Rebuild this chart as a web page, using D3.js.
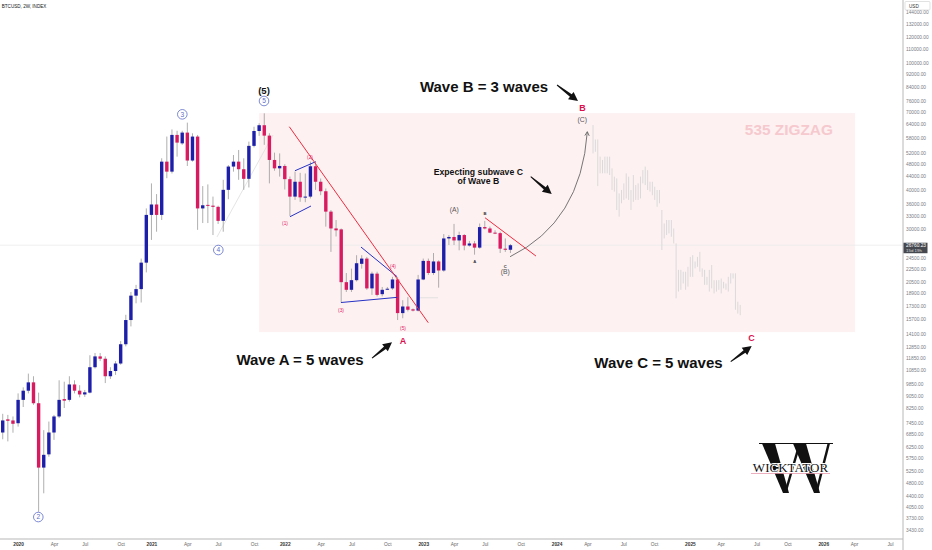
<!DOCTYPE html>
<html><head><meta charset="utf-8">
<script src="https://cdn.jsdelivr.net/npm/d3@7"></script>
<style>body{margin:0;background:#fff;} svg{display:block;font-family:"Liberation Sans",Arial,sans-serif;}</style>
</head><body><svg id="c" width="932" height="550"></svg>
<script>
// ---------- DATA ----------
const startDate = Date.UTC(2019, 10, 23);   // first 2W candle
const periodDays = 14;
const opens  = [6930,7620,7560,7410,8770,9370,9950,8560,5380,5920,6930,7780,8820,8770,9800,9370,9120,9240,11100,12000,11800,10400,10800,11400,13100,15600,18600,19500,23600,33300,35900,33300,48900,45500,59300,55800,60300,49300,58600,34900,35800,35600,35300,31900,39900,47200,48900,46300,43200,54800,61000,63600,59000,49500,46600,47400,43100,38000,42300,37800,38000,47300,42300,39500,34100,30200,30000,20500,19400,20800,23400,24300,19600,21800,18800,19450,19600,20900,16400,17200,16850,16700,20900,23900,21900,23800,22300,28100,28400,27700,28800,26700,27100,26300,30500,30200,29300,29200,26100,25900];
const highs  = [7930,7870,7780,9190,9600,10600,10400,9240,7050,7500,7870,10100,10000,10400,10100,9750,9420,12100,12300,12300,12000,11100,11600,13400,16200,19100,20100,24300,34900,41800,38700,50100,58600,61700,61100,61100,64800,60000,59300,41000,41500,38000,35600,42900,47700,51300,53200,50100,56500,62900,64500,69300,60000,52200,51900,48000,43900,45500,45100,44900,48900,48900,43300,40300,34500,32100,30200,21900,22600,24900,24900,24600,22100,22100,19800,19800,21300,21300,18000,18400,16950,21600,24300,24300,25300,24000,29000,28800,31200,29500,29000,27600,27600,31300,31900,30600,29800,29500,28100,27000];
const lows   = [6600,6500,6920,7230,8330,9190,8460,3910,4470,5820,6570,7690,8270,8660,9190,8930,8960,9190,11000,11600,9900,10200,10500,11300,12900,14900,17600,17700,22000,27800,29500,32100,43400,44900,50700,55200,47400,48900,29900,31400,31400,28800,31200,29500,37300,45500,42900,39900,40600,54200,58900,55200,41800,45800,43900,40000,33000,37100,36600,36500,37500,39900,38400,30600,25500,28500,17700,19100,19100,20600,22600,19400,18700,18500,18500,19400,19400,15600,15800,16600,16600,16600,20800,21600,21600,19700,22100,26800,26800,25800,25800,26500,25000,26100,30000,29200,29000,25300,25500,25300];
const closes = [7560,7540,7380,8770,9370,9950,8560,5380,5900,6930,7780,8770,8720,9800,9370,9120,9260,11100,12000,11800,10400,10800,11400,13100,15600,18600,19500,23600,33300,35900,33300,48900,45500,59300,56100,60300,49300,58600,34900,35700,35600,35300,31900,39900,47200,48900,46300,43200,54800,61000,63600,59000,49500,46600,47400,43100,38000,42300,37800,38000,47300,42300,39500,34100,30200,29800,20500,19400,20800,23500,24300,19600,21800,18700,19400,19550,20900,16400,17200,16800,16700,20900,23900,21900,23800,22300,28100,28400,27700,28800,26700,27100,26300,30500,30200,29300,29200,26100,25900,26760.23];
const lastPrice = 26760.23;

// projected (ghost) bars pattern
const ghostFirstIdx = 115.1, ghostLastIdx = 143.8;
const ghostHighs = [63700,57400,57400,50700,49500,50700,50700,50700,46600,43900,43350,38900,39850,41800,44950,43900,39850,44400,41300,41800,43900,46000,47200,46000,42300,42300,40800,39850,39850,34500,31300,32100,32100,32100,30200,27100,22400,22400,22100,22100,22900,24600,24900,23800,24600,25500,22650,22400,21300,22400,23200,20800,20800,20800,21050,20550,20300,21300,21850,21850,21850,17800,17400];
const ghostLows  = [51900,52500,41000,44950,44950,44950,44950,44400,39850,39400,34500,32900,36200,37100,37500,37100,34500,36600,37100,37100,37500,41800,41300,39850,39400,38400,37100,35300,36200,25850,28100,28800,29150,28450,27100,18250,19150,19400,20300,19400,19850,21300,21300,22650,22900,22100,21300,20100,20100,19150,19600,18900,19150,19400,18900,19600,19400,19150,20300,21050,16800,16350,16150];

// axis ticks
const yTicks = [144000,132000,120000,110000,100000,92000,84000,76000,70000,64000,58000,52000,48000,44000,40000,36000,33000,30000,24500,22500,20500,18900,17300,15700,14100,12850,11850,10850,9850,9050,8250,7450,6850,6250,5750,5250,4800,4400,4050,3730,3430];
const xTickMonths = ["2020-01","2020-04","2020-07","2020-10","2021-01","2021-04","2021-07","2021-10","2022-01","2022-04","2022-07","2022-10","2023-01","2023-04","2023-07","2023-10","2024-01","2024-04","2024-07","2024-10","2025-01","2025-04","2025-07","2025-10","2026-01","2026-04","2026-07"];
const xTickLabels = ["2020","Apr","Jul","Oct","2021","Apr","Jul","Oct","2022","Apr","Jul","Oct","2023","Apr","Jul","Oct","2024","Apr","Jul","Oct","2025","Apr","Jul","Oct","2026","Apr","Jul"];

// annotation anchors (candle index, price)
const zone = {i0: 50, i1: 166.2, top: 69400, bottom: 14300};
const bigTexts = [
  {t:"Wave B = 3 waves", i:93.85, p:80800},
  {t:"Wave A = 5 waves", i:57.97, p:11270},
  {t:"Wave C = 5 waves", i:127.87, p:11030}
];
const redLetters = [{t:"B", i:113.05, p:70700},{t:"A", i:78.05, p:13170},{t:"C", i:146.0, p:13450}];
const circled = [{t:"2", i:6.94, p:3766},{t:"3", i:35.02, p:68800},{t:"4", i:42.04, p:25850},{t:"5", i:50.95, p:75740}];
const subLabels = [{t:"(1)", i:55.04, p:31400},{t:"(2)", i:59.92, p:50390},{t:"(3)", i:65.96, p:16770},{t:"(4)", i:76.1, p:23030},{t:"(5)", i:78.05, p:14720}];
const grayLabels = [{t:"(A)", i:88.04, p:34490, s:6.8},{t:"(B)", i:98.0, p:22140, s:6.8},{t:"(C)", i:113.0, p:66000, s:6.8}];
const tinyLabels = [{t:"B", i:94.04, p:33690},{t:"A", i:92.03, p:23880},{t:"C", i:98.0, p:22940}];
const blueLines = [
  [[56.99,45800],[61.03,48880]],[[56.02,32870],[60.11,35510]],
  [[69.86,26410],[76.88,21340]],[[65.96,17700],[76.88,18370]]
];
const redLines = [[[55.88,62920],[82.98,15300]],[[94.04,32630],[103.98,24750]]];
const faintLines = [[[41.78,28400],[52.7,59250]],[[80.98,18320],[84.88,18320]]];
const arrows = [
  [[108.08,85010],[112.17,75740]],
  [[102.95,43870],[107.05,38720]],
  [[72.01,11860],[75.91,13300]],
  [[141.95,11550],[146.04,12930]]
];
const curve = [[98.92,24630],[112.76,31630],[113.99,60680]];

// ---------- SCALES ----------
const svg = d3.select("#c");
const plotRight = 903, plotBottom = 539;
const dayMs = 864e5;
const x = d3.scaleTime().domain([new Date(Date.UTC(2020,0,1)), new Date(Date.UTC(2026,0,1))]).range([17, 17 + 2192*133.8/365.25]);
const y = d3.scaleLog().domain([3430, 132000]).range([530, 24]);
const dateOf = i => new Date(startDate + i*periodDays*dayMs);
const X = i => x(dateOf(i));
const P = a => [X(a[0]), y(a[1])];

// zone rectangle
svg.append("rect").attr("x", X(zone.i0)).attr("y", y(zone.top))
  .attr("width", X(zone.i1) - X(zone.i0)).attr("height", y(zone.bottom) - y(zone.top))
  .attr("fill", "#fdf1f2");

svg.append("text").attr("x", X(153.3)).attr("y", y(59250)).attr("text-anchor","middle")
  .attr("font-size", 15.4).attr("font-weight","bold").attr("fill","#f6c9ce").text("535 ZIGZAG");

// last price line
svg.append("line").attr("x1",0).attr("x2",plotRight).attr("y1",y(lastPrice)).attr("y2",y(lastPrice))
  .attr("stroke","#ececec").attr("stroke-width",0.8);

// faint lines
faintLines.forEach(l => svg.append("line").attr("x1",P(l[0])[0]).attr("y1",P(l[0])[1]).attr("x2",P(l[1])[0]).attr("y2",P(l[1])[1]).attr("stroke","#dddddd").attr("stroke-width",0.8));

// ghost bars
const gStep = (ghostLastIdx - ghostFirstIdx)/(ghostHighs.length - 1);
const ghost = svg.append("g");
ghostHighs.forEach((h, k) => {
  const xi = X(ghostFirstIdx + k*gStep);
  ghost.append("line").attr("x1",xi).attr("x2",xi).attr("y1",y(h)).attr("y2",y(ghostLows[k]))
    .attr("stroke","#dadada").attr("stroke-width",1);
});

// candles
const cg = svg.append("g");
const bw = 3.4;
opens.forEach((o, i) => {
  const c = closes[i], up = c >= o, xi = X(i);
  cg.append("line").attr("x1",xi).attr("x2",xi).attr("y1",y(highs[i])).attr("y2",y(lows[i]))
    .attr("stroke","#9a9a9a").attr("stroke-width",0.8);
  const yt = y(Math.max(o,c)), yb = y(Math.min(o,c));
  cg.append("rect").attr("x", xi - bw/2).attr("y", yt).attr("width", bw).attr("height", Math.max(1, yb - yt))
    .attr("fill", up ? "#1d1fa8" : "#d81a5f");
});

// trend lines
blueLines.forEach(l => svg.append("line").attr("x1",P(l[0])[0]).attr("y1",P(l[0])[1]).attr("x2",P(l[1])[0]).attr("y2",P(l[1])[1]).attr("stroke","#2632c4").attr("stroke-width",1));
redLines.forEach(l => svg.append("line").attr("x1",P(l[0])[0]).attr("y1",P(l[0])[1]).attr("x2",P(l[1])[0]).attr("y2",P(l[1])[1]).attr("stroke","#ef2b3e").attr("stroke-width",1));

// curve
const c0 = P(curve[0]), c1 = P(curve[1]), c2 = P(curve[2]);
svg.append("path").attr("d", `M${c0}Q${c1} ${c2}`).attr("fill","none").attr("stroke","#666").attr("stroke-width",0.9);
{
  const dx = c2[0]-c1[0], dy = c2[1]-c1[1], L = Math.hypot(dx,dy), ux = dx/L, uy = dy/L;
  const hl = 4, hw = 2.2;
  const a = [c2[0]-ux*hl - uy*hw, c2[1]-uy*hl + ux*hw], b = [c2[0]-ux*hl + uy*hw, c2[1]-uy*hl - ux*hw];
  svg.append("path").attr("d", `M${a}L${c2}L${b}`).attr("fill","none").attr("stroke","#666").attr("stroke-width",0.9);
}

// arrows
arrows.forEach(a => {
  const p1 = P(a[0]), p2 = P(a[1]);
  const dx=p2[0]-p1[0], dy=p2[1]-p1[1], L=Math.hypot(dx,dy), ux=dx/L, uy=dy/L, nx=-uy, ny=ux;
  const hl=9, hw=4.6, s0=0.5, s1=1.5;
  const bx=p2[0]-ux*hl, by=p2[1]-uy*hl;
  const pts=[[p1[0]+nx*s0,p1[1]+ny*s0],[bx+nx*s1,by+ny*s1],[bx+nx*hw,by+ny*hw],p2,[bx-nx*hw,by-ny*hw],[bx-nx*s1,by-ny*s1],[p1[0]-nx*s0,p1[1]-ny*s0]];
  svg.append("path").attr("d","M"+pts.map(p=>p.join(",")).join("L")+"Z").attr("fill","#111");
});

// big texts
bigTexts.forEach(d => svg.append("text").attr("x",X(d.i)).attr("y",y(d.p)).attr("text-anchor","middle")
  .attr("font-size",15).attr("font-weight","bold").attr("fill","#111").text(d.t));

// expecting text
const ex = svg.append("text").attr("x",X(92.74)).attr("y",y(44400)).attr("text-anchor","middle")
  .attr("font-size",8.7).attr("font-weight","bold").attr("fill","#111");
ex.append("tspan").attr("x",X(92.74)).text("Expecting subwave C");
ex.append("tspan").attr("x",X(92.74)).attr("dy",9.4).text("of Wave B");

// red letters
redLetters.forEach(d => svg.append("text").attr("x",X(d.i)).attr("y",y(d.p)).attr("text-anchor","middle")
  .attr("font-size",9).attr("font-weight","bold").attr("fill","#dc0f4f").text(d.t));

// (5) black
svg.append("text").attr("x",X(50.95)).attr("y",y(79950)).attr("text-anchor","middle")
  .attr("font-size",9.5).attr("font-weight","bold").attr("fill","#111").text("(5)");

// circled labels
circled.forEach(d => {
  const cx = X(d.i), cy = y(d.p);
  svg.append("circle").attr("cx",cx).attr("cy",cy).attr("r",4.8).attr("fill","none").attr("stroke","#5d6cc8").attr("stroke-width",0.8);
  svg.append("text").attr("x",cx).attr("y",cy+2.4).attr("text-anchor","middle").attr("font-size",6.6).attr("fill","#5d6cc8").text(d.t);
});

// sub labels
subLabels.forEach(d => svg.append("text").attr("x",X(d.i)).attr("y",y(d.p)+1.7).attr("text-anchor","middle")
  .attr("font-size",4.8).attr("fill","#e3245f").text(d.t));
grayLabels.forEach(d => svg.append("text").attr("x",X(d.i)).attr("y",y(d.p)+2.4).attr("text-anchor","middle")
  .attr("font-size",d.s).attr("fill","#555").text(d.t));
tinyLabels.forEach(d => svg.append("text").attr("x",X(d.i)).attr("y",y(d.p)+1.5).attr("text-anchor","middle")
  .attr("font-size",4.2).attr("font-weight","bold").attr("fill","#333").text(d.t));

// ---------- AXES ----------
svg.append("line").attr("x1",0).attr("x2",plotRight).attr("y1",plotBottom).attr("y2",plotBottom).attr("stroke","#cfcfcf").attr("stroke-width",1.5);
svg.append("line").attr("x1",plotRight).attr("x2",plotRight).attr("y1",0).attr("y2",550).attr("stroke","#b8b8b8").attr("stroke-width",1);

const yAxis = svg.append("g").attr("transform",`translate(${plotRight},0)`)
  .call(d3.axisRight(y).tickValues(yTicks).tickFormat(d => d.toFixed(2)).tickSize(0).tickPadding(3));
yAxis.select(".domain").remove();
yAxis.selectAll("text").attr("font-size",4.8).attr("fill","#7a7d86").attr("font-family","Liberation Sans, Arial, sans-serif");

const snapped = xTickMonths.map(m => {
  const t = Date.UTC(+m.slice(0,4), +m.slice(5,7)-1, 1);
  return dateOf(Math.ceil((t - startDate)/(periodDays*dayMs)));
});
const xAxis = svg.append("g").attr("transform",`translate(0,${plotBottom})`)
  .call(d3.axisBottom(x).tickValues(snapped).tickFormat((d,i) => xTickLabels[i]).tickSize(0).tickPadding(4));
xAxis.select(".domain").remove();
xAxis.selectAll("text").attr("font-size",4.8).attr("font-family","Liberation Sans, Arial, sans-serif")
  .attr("fill",(d,i) => /^\d/.test(xTickLabels[i]) ? "#333" : "#666")
  .attr("font-weight",(d,i) => /^\d/.test(xTickLabels[i]) ? "bold" : "normal");

// last price box
const ly = y(lastPrice);
svg.append("rect").attr("x",plotRight+0.5).attr("y",ly-2.5).attr("width",24).attr("height",10.5).attr("fill","#45484f");
svg.append("text").attr("x",plotRight+3).attr("y",ly+1.8).attr("font-size",4.8).attr("fill","#fff").text(lastPrice.toFixed(2));
svg.append("text").attr("x",plotRight+3).attr("y",ly+6.6).attr("font-size",4.4).attr("fill","#ddd").text("15d 19h");

// USD box
svg.append("rect").attr("x",905).attr("y",1.5).attr("width",25).attr("height",8.5).attr("rx",1).attr("fill","#fff").attr("stroke","#cfcfcf").attr("stroke-width",0.6);
svg.append("text").attr("x",909).attr("y",7.6).attr("font-size",4.6).attr("fill","#333").text("USD");

// title
svg.append("text").attr("x",1.7).attr("y",8).attr("font-size",4.6).attr("fill","#131722").text("BTCUSD, 2W, INDEX");

// logo (big serif W drawn as a shape, wordmark as text)
const logo = svg.append("g").attr("transform","translate(762,443)");
const wShape = [
  [[0,0.5],[13,0.5],[27,50],[21,50]],        // thick left stroke
  [[22,50],[24.5,50],[39,0.5],[36.5,0.5]],   // thin stroke
  [[31,0.5],[44,0.5],[58,50],[52,50]],       // thick right stroke
  [[53,50],[55.5,50],[68,0.5],[65.5,0.5]]    // thin right stroke
];
wShape.forEach(poly => logo.append("path").attr("d","M"+poly.map(p=>p.join(",")).join("L")+"Z").attr("fill","#111"));
logo.append("line").attr("x1",-3).attr("x2",71).attr("y1",0.5).attr("y2",0.5).attr("stroke","#111").attr("stroke-width",1);
logo.append("line").attr("x1",-11).attr("x2",68).attr("y1",30.5).attr("y2",30.5).attr("stroke","#e79aac").attr("stroke-width",0.8);
logo.append("text").attr("x",28.5).attr("y",28.5).attr("text-anchor","middle").attr("font-size",13)
  .attr("font-family","Liberation Serif, Times New Roman, serif")
  .attr("fill","#111").attr("stroke","#fff").attr("stroke-width",2.2).attr("paint-order","stroke").text("WICKTATOR");
</script></body></html>
